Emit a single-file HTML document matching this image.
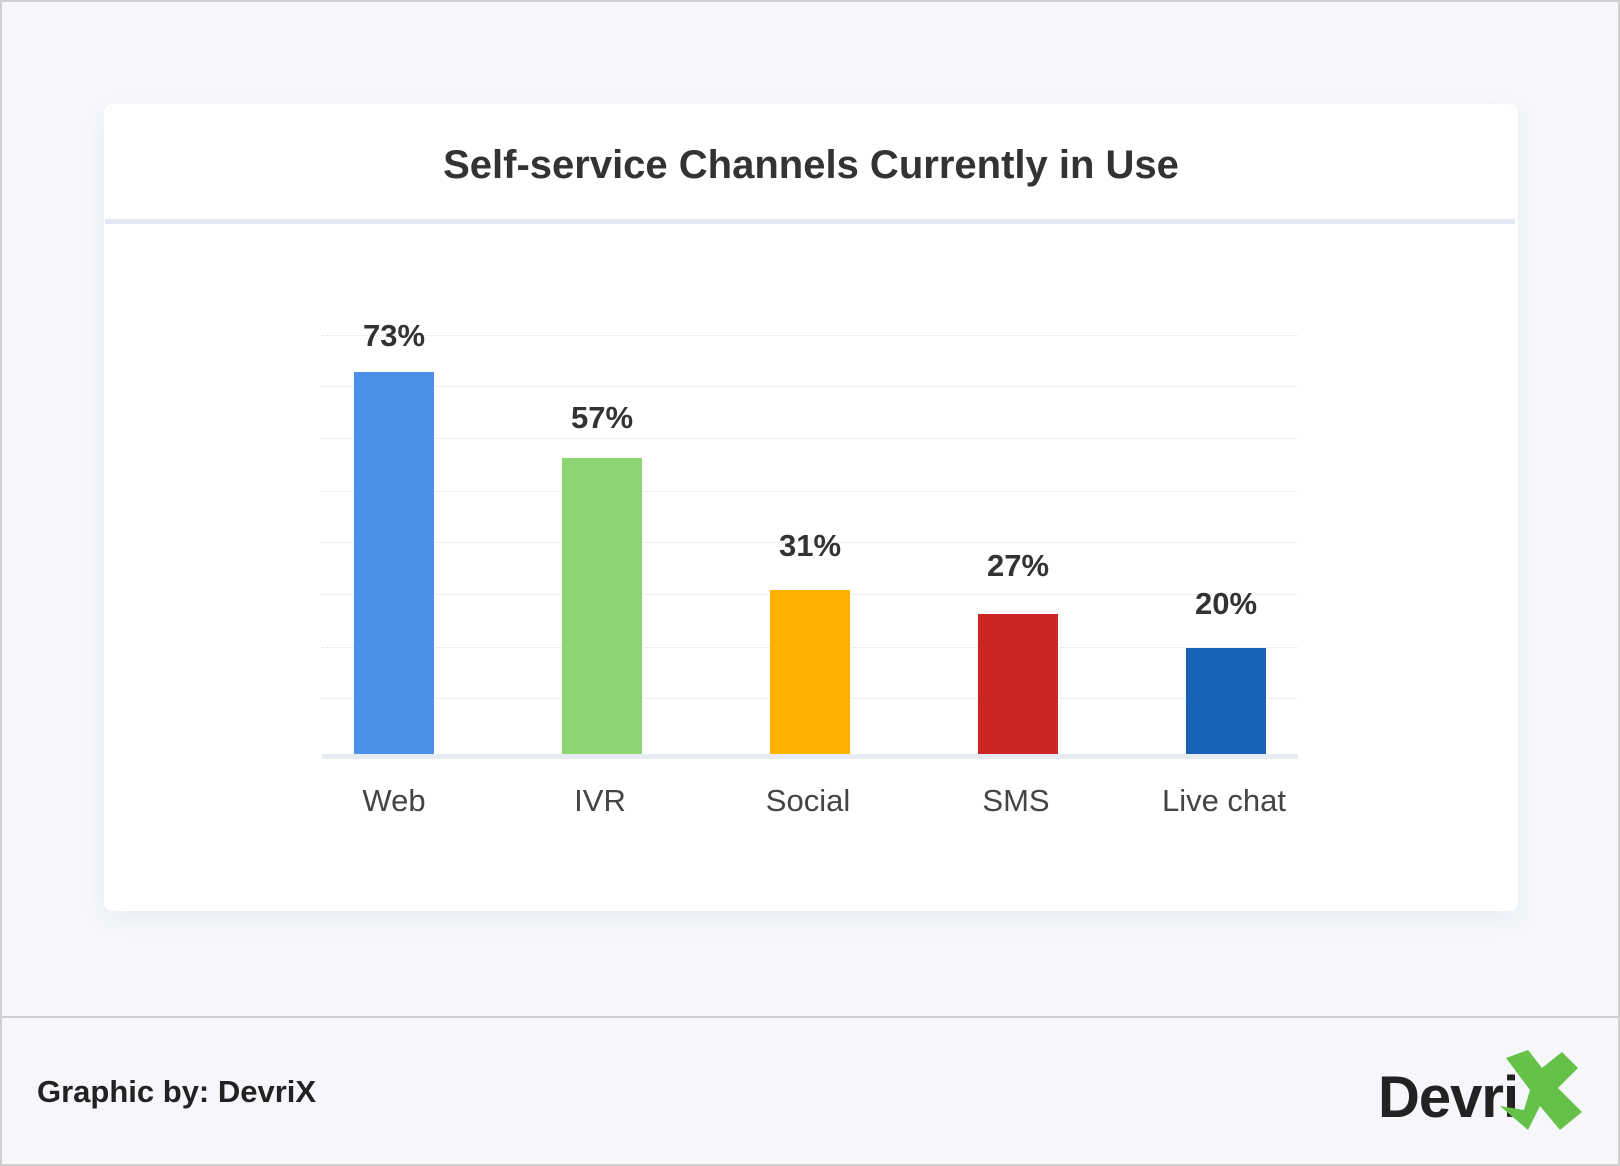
<!DOCTYPE html>
<html><head><meta charset="utf-8"><style>
html,body{margin:0;padding:0}
body{width:1620px;height:1166px;background:#f5f7fb;position:relative;overflow:hidden;font-family:"Liberation Sans","DejaVu Sans",sans-serif;color:#333}
.frame{position:absolute;left:0;top:0;width:1616px;height:1162px;border:2px solid #d0d0d0}
.card{position:absolute;left:104px;top:104px;width:1414px;height:807px;background:#fff;border-radius:8px;box-shadow:0 8px 24px rgba(40,60,120,0.06)}
.title{position:absolute;left:104px;width:1414px;top:143px;text-align:center;font-size:40px;font-weight:bold;color:#333}
.sep{position:absolute;left:105px;top:219px;width:1410px;height:5px;background:#e3e8f2}
.grid{position:absolute;left:322px;width:976px;border-top:1px dotted #e0e0e0}
.base{position:absolute;left:322px;top:754px;width:976px;height:5px;background:#e6ebf3}
.bar{position:absolute;width:80px}
.val{position:absolute;width:160px;text-align:center;font-size:31px;font-weight:bold;color:#333}
.cat{position:absolute;width:200px;text-align:center;font-size:31px;color:#444;top:783px}
.fsep{position:absolute;left:0;top:1016px;width:1620px;height:2px;background:#cfcfcf}
.by{position:absolute;left:37px;top:1074px;font-size:31px;font-weight:bold;color:#222}
.logo{position:absolute;left:1378px;top:1064px;font-size:58px;font-weight:bold;color:#222;letter-spacing:-1px}
</style></head><body>
<div class="frame"></div>
<div class="card"></div>
<div class="title">Self-service Channels Currently in Use</div>
<div class="sep"></div>
<div class="grid" style="top:335px"></div>
<div class="grid" style="top:386px"></div>
<div class="grid" style="top:438px"></div>
<div class="grid" style="top:491px"></div>
<div class="grid" style="top:542px"></div>
<div class="grid" style="top:594px"></div>
<div class="grid" style="top:647px"></div>
<div class="grid" style="top:698px"></div>
<div class="bar" style="left:354px;top:372px;height:382px;background:#4a90e8"></div>
<div class="bar" style="left:562px;top:458px;height:296px;background:#8fd473"></div>
<div class="bar" style="left:770px;top:590px;height:164px;background:#ffb100"></div>
<div class="bar" style="left:978px;top:614px;height:140px;background:#cc2624"></div>
<div class="bar" style="left:1186px;top:648px;height:106px;background:#1763b8"></div>
<div class="base"></div>
<div class="val" style="left:314px;top:318px">73%</div>
<div class="val" style="left:522px;top:400px">57%</div>
<div class="val" style="left:730px;top:528px">31%</div>
<div class="val" style="left:938px;top:548px">27%</div>
<div class="val" style="left:1146px;top:586px">20%</div>
<div class="cat" style="left:294px">Web</div>
<div class="cat" style="left:500px">IVR</div>
<div class="cat" style="left:708px">Social</div>
<div class="cat" style="left:916px">SMS</div>
<div class="cat" style="left:1124px">Live chat</div>
<div class="fsep"></div>
<div class="by">Graphic by: DevriX</div>
<div class="logo">Devri</div>
<svg style="position:absolute;left:1500px;top:1050px" width="84" height="82" viewBox="0 0 84 82">
<polygon points="6,8 28,0 42,18 62,2 78,18 58,38 82,62 60,80 40,56 28,80 0,56 24,60 30,40" fill="#65c147"/>
</svg>
</body></html>
